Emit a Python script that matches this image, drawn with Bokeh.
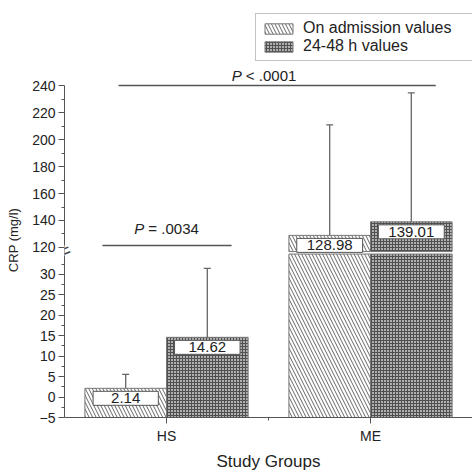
import numpy as np
from bokeh.plotting import figure
from bokeh.layouts import column
from bokeh.models import Range1d, FixedTicker, Legend, LegendItem, Label
from bokeh.core.properties import value
from bokeh.embed import file_html
from bokeh.resources import INLINE

# ---------------- data ----------------
groups = ["HS", "ME"]
series = ["On admission values", "24-48 h values"]
admission = [2.14, 128.98]
later = [14.62, 139.01]
admission_sd = [3.4, 81.9]
later_sd = [16.9, 95.6]
admission_labels = ["2.14", "128.98"]
later_labels = ["14.62", "139.01"]
lower_ticks = [-5, 0, 5, 10, 15, 20, 25, 30]
upper_ticks = [120, 140, 160, 180, 200, 220, 240]
p_hs = ("P", "= .0034")
p_all = ("P", "< .0001")

# ---------------- layout constants ----------------
FONT = "Liberation Sans"
TXT = "#222222"
AX = "#555555"
LOW0, LOW1 = -5.0, 81.88      # lower segment range (default)
UP0, UP1 = -5.93, 257.04      # upper segment range ("upper")
Y0 = LOW0
BREAK_LOW = 35      # top of lower segment
BREAK_HIGH = 117    # bottom of upper segment


def to_low(v):
    """Position of an upper-segment value on the default (lower) range."""
    return LOW0 + (v - UP0) * (LOW1 - LOW0) / (UP1 - UP0)


styles = [
    dict(fill_color="white", hatch_pattern="\\", hatch_color="#666666", hatch_scale=7, hatch_weight=1),
    dict(fill_color="#b0b0b0", hatch_pattern="+", hatch_color="#505050", hatch_scale=3, hatch_weight=1),
]

# ---------------- legend strip (own small figure above the chart) ----------------
top = figure(width=472, height=62, x_range=Range1d(0, 1), y_range=Range1d(0, 1),
             output_backend="svg", toolbar_location=None, x_axis_type=None, y_axis_type=None,
             min_border=0)
top.outline_line_color = None
# legend swatch renderers: kept outside the visible ranges, only their style is shown
leg_r = [top.vbar(x=[-5], width=0.4, top=[-5], bottom=[-6], line_color="#777777", line_width=1,
                  **styles[k]) for k in range(2)]
legend = Legend(items=[LegendItem(label=series[k], renderers=[leg_r[k]]) for k in range(2)],
                location=(191, 1), orientation="vertical", padding=5, spacing=0, margin=0,
                glyph_width=35, glyph_height=13, label_standoff=7, label_width=164,
                label_text_font=FONT, label_text_font_size="16px", label_text_color=TXT,
                border_line_color="#888888", border_line_width=1)
top.add_layout(legend)

# ---------------- main chart ----------------
p = figure(width=472, height=412, x_range=Range1d(0.5, 2.5), y_range=Range1d(LOW0, LOW1),
           output_backend="svg", toolbar_location=None,
           min_border_left=64, min_border_right=0, min_border_top=0, min_border_bottom=57)
p.extra_y_ranges = {"upper": Range1d(UP0, UP1)}
p.outline_line_color = None
p.xgrid.visible = False
p.ygrid.visible = False

pos = np.arange(1, len(groups) + 1, dtype=float)
offsets = [-0.2, 0.2]
all_vals = [np.array(admission), np.array(later)]
all_sds = [np.array(admission_sd), np.array(later_sd)]
all_labels = [admission_labels, later_labels]

for k in range(2):
    xs = pos + offsets[k]
    vals = all_vals[k]
    low_top = np.minimum(vals, BREAK_LOW)
    p.vbar(x=xs, width=0.4, bottom=Y0, top=low_top, line_color="#777777", line_width=1, **styles[k])
    m = vals > BREAK_HIGH
    if m.any():
        p.vbar(x=xs[m], width=0.4, bottom=BREAK_HIGH, top=vals[m], y_range_name="upper",
               line_color="#777777", line_width=1, **styles[k])

# error bars
for k in range(2):
    xs = pos + offsets[k]
    for x, v, s in zip(xs, all_vals[k], all_sds[k]):
        rng = "upper" if v > BREAK_HIGH else "default"
        p.segment(x0=[x], y0=[v], x1=[x], y1=[v + s], line_color="#666666", line_width=1.3, y_range_name=rng)
        p.scatter(x=[x], y=[v + s], marker="dash", size=7, line_color="#666666", line_width=1.3,
                  y_range_name=rng)

# value boxes
for k in range(2):
    xs = pos + offsets[k]
    for x, v, lab in zip(xs, all_vals[k], all_labels[k]):
        rng = "upper" if v > BREAK_HIGH else "default"
        w = sum(0.278 if c == "." else 0.556 for c in lab) * 15
        padx = int(round((65 - w) / 2))
        p.text(x=[x], y=[v], text=[lab], text_font=value(FONT), text_font_size="15px", text_color=TXT,
               text_align="center", text_baseline="top", y_offset=3, y_range_name=rng,
               background_fill_color="white", border_line_color="#555555", border_line_width=1,
               padding=(padx, 2))


# p-value brackets
def pvalue(cx, y, rng, parts, yoff):
    fs = 15
    wP = 0.667 * fs
    wrest = (0.584 + 0.278 + 0.278 + 4 * 0.556) * fs
    W = wP + 0.278 * fs + wrest
    xo = -W / 2 + wP
    p.text(x=[cx], y=[y], text=[parts[0]], text_font=value(FONT), text_font_size="15px",
           text_font_style="italic", text_color=TXT, text_align="right", text_baseline="alphabetic",
           x_offset=xo, y_offset=yoff, y_range_name=rng)
    p.text(x=[cx], y=[y], text=[parts[1]], text_font=value(FONT), text_font_size="15px",
           text_color=TXT, text_align="left", text_baseline="alphabetic",
           x_offset=xo + 0.278 * fs, y_offset=yoff, y_range_name=rng)


p.segment(x0=[0.686], y0=[37.1], x1=[1.319], y1=[37.1], line_color="#555555", line_width=1.6)
pvalue(1.0, 37.1, "default", p_hs, -17)
p.segment(x0=[0.765], y0=[240], x1=[2.32], y1=[240], line_color="#555555", line_width=1.6,
          y_range_name="upper")
pvalue(1.478, 240, "upper", p_all, -10)


# axes
def style_axis(ax):
    ax.axis_line_color = AX
    ax.major_tick_line_color = AX
    ax.minor_tick_line_color = AX
    ax.major_tick_in = 0
    ax.major_tick_out = 6
    ax.minor_tick_in = 0
    ax.minor_tick_out = 3
    ax.major_label_text_font = FONT
    ax.major_label_text_font_size = "14px"
    ax.major_label_text_color = TXT
    ax.axis_label_text_font = FONT
    ax.axis_label_text_font_style = "normal"
    ax.axis_label_text_color = TXT


# one left axis carrying both segments' ticks
up_pos = [to_low(t) for t in upper_ticks]
up_minor = [to_low(t + 10) for t in upper_ticks[:-1]]
yax = p.yaxis[0]
style_axis(yax)
yax.ticker = FixedTicker(ticks=lower_ticks + up_pos,
                         minor_ticks=[t + 2.5 for t in lower_ticks] + up_minor)
yax.major_label_overrides = {float(pp): str(t) for pp, t in zip(up_pos, upper_ticks)}
yax.bounds = (LOW0, to_low(upper_ticks[-1]))
yax.major_label_standoff = 3
yax.axis_label = "CRP (mg/l)"
yax.axis_label_text_font_size = "13px"
yax.axis_label_standoff = 8

xax = p.xaxis[0]
style_axis(xax)
xax.ticker = FixedTicker(ticks=[float(v) for v in pos], minor_ticks=[1.5])
xax.major_label_overrides = {int(v): g for v, g in zip(pos, groups)}
xax.major_label_standoff = 4
xax.axis_label = "Study Groups"
xax.axis_label_text_font_size = "17px"
xax.axis_label_standoff = 5

# axis break: gap in the axis line plus the two slanted strokes
BREAK_MID = (BREAK_LOW + to_low(upper_ticks[0])) / 2
p.add_layout(Label(x=0.5, y=BREAK_MID, text="\u00a0", text_align="center", text_baseline="middle",
                   text_font=FONT, text_font_size="8px", background_fill_color="white",
                   padding=(3, 1)))
p.add_layout(Label(x=0.5, y=BREAK_MID, text="=", angle=0.38,
                   text_align="center", text_baseline="middle", text_font=FONT,
                   text_font_size="20px", text_color="#444444"))

layout = column(top, p, spacing=0)
open("out.html", "w").write(file_html(layout, INLINE))
